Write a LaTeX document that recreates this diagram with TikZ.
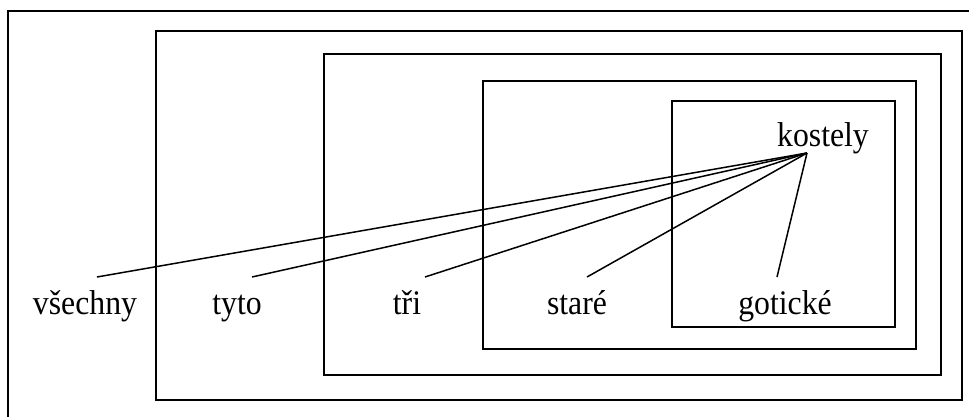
\documentclass[tikz,border=0pt]{standalone}
\usepackage{fontspec}
\setmainfont{Liberation Serif}[FakeStretch=0.92]
\begin{document}
\begin{tikzpicture}[x=1pt,y=-1pt,
  box/.style={draw=black,line width=1.5pt},
  word/.style={anchor=base,inner sep=0pt,font=\fontsize{34.5}{40}\selectfont},
  link/.style={draw=black,line width=1.5pt}]
\useasboundingbox (0,0) rectangle (969,416);
\draw[box] (8,11) rectangle (972,420);
\draw[box] (156,31) rectangle (962,400);
\draw[box] (324,54) rectangle (941,375);
\draw[box] (483,81) rectangle (916,349);
\draw[box] (672,101) rectangle (895,327);
\node[word] (kostely) at (823,146) {kostely};
\node[word] (vsechny) at (85,314) {všechny};
\node[word] (tyto) at (237,314) {tyto};
\node[word] (tri) at (407,314) {tři};
\node[word] (stare) at (577,314) {staré};
\node[word] (goticke) at (785,314) {gotické};
\coordinate (k) at (807,153);
\coordinate (v1) at (97,277);
\coordinate (t1) at (252,277);
\coordinate (r1) at (425,277);
\coordinate (s1) at (587,277);
\coordinate (g1) at (777,277);
\draw[link] (k) -- (v1);
\draw[link] (k) -- (t1);
\draw[link] (k) -- (r1);
\draw[link] (k) -- (s1);
\draw[link] (k) -- (g1);
\end{tikzpicture}
\end{document}
